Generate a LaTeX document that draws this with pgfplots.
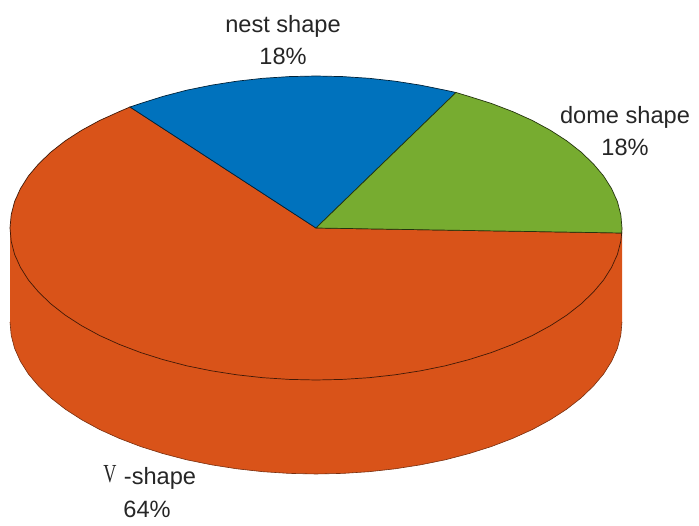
\documentclass[border=0pt]{standalone}
\usepackage{graphicx}
\usepackage{pgfplots}
\pgfplotsset{compat=1.18}
\usepackage{fontspec}
\setmainfont{Liberation Sans}
\newfontfamily\vfont{Liberation Serif}
\definecolor{mo}{HTML}{D95319}
\definecolor{mb}{HTML}{0072BD}
\definecolor{mg}{HTML}{77AC30}
\definecolor{txt}{HTML}{262626}
\tikzset{lbl/.style={text=txt, font=\fontsize{23.6}{27}\selectfont, inner sep=0pt, anchor=center}}
\begin{document}
\begin{tikzpicture}
\begin{axis}[
  scale only axis, width=699pt, height=526pt,
  xmin=0, xmax=699, ymin=0, ymax=526, y dir=reverse,
  axis lines=none, clip=false,
]
\path (axis cs:0,0) rectangle (axis cs:699,526);
% side wall
\addplot[fill=mo, draw=none] coordinates {
(622,228)(622,322)(620.8,335.3)(617.4,348.4)(611.6,361.3)(603.6,374)(593.3,386.2)(581,398)(566.7,409.2)(550.4,419.7)(532.4,429.5)(512.7,438.4)(491.5,446.5)(469,453.6)(445.3,459.8)(420.7,464.8)(395.2,468.8)(369.1,471.7)(342.7,473.4)(316,474)(289.3,473.4)(262.9,471.7)(236.8,468.8)(211.3,464.8)(186.7,459.8)(163,453.6)(140.5,446.5)(119.3,438.4)(99.6,429.5)(81.6,419.7)(65.3,409.2)(51,398)(38.7,386.2)(28.4,374)(20.4,361.3)(14.6,348.4)(11.2,335.3)(10,322)(10,228)
};
% bottom edge
\addplot[draw=black!45!mo, line width=0.6pt] coordinates {
(622,322)(620.8,335.3)(617.4,348.4)(611.6,361.3)(603.6,374)(593.3,386.2)(581,398)(566.7,409.2)(550.4,419.7)(532.4,429.5)(512.7,438.4)(491.5,446.5)(469,453.6)(445.3,459.8)(420.7,464.8)(395.2,468.8)(369.1,471.7)(342.7,473.4)(316,474)(289.3,473.4)(262.9,471.7)(236.8,468.8)(211.3,464.8)(186.7,459.8)(163,453.6)(140.5,446.5)(119.3,438.4)(99.6,429.5)(81.6,419.7)(65.3,409.2)(51,398)(38.7,386.2)(28.4,374)(20.4,361.3)(14.6,348.4)(11.2,335.3)(10,322)
};
% top: V-shape
\addplot[fill=mo, draw=black!70!mo, line width=0.7pt] coordinates {
(316,228)(621.7,233)(620.8,241.3)(617.4,254.4)(611.6,267.3)(603.6,280)(593.3,292.2)(581,304)(566.7,315.2)(550.4,325.7)(532.4,335.5)(512.7,344.4)(491.5,352.5)(469,359.6)(445.3,365.8)(420.7,370.8)(395.2,374.8)(369.1,377.7)(342.7,379.4)(316,380)(289.3,379.4)(262.9,377.7)(236.8,374.8)(211.3,370.8)(186.7,365.8)(163,359.6)(140.5,352.5)(119.3,344.4)(99.6,335.5)(81.6,325.7)(65.3,315.2)(51,304)(38.7,292.2)(28.4,280)(20.4,267.3)(14.6,254.4)(11.2,241.3)(10,228)(11.2,214.7)(14.6,201.6)(20.4,188.7)(28.4,176)(38.7,163.8)(51,152)(65.3,140.8)(81.6,130.3)(99.6,120.5)(119.3,111.6)(130,107)(316,228)
};
% top: nest shape
\addplot[fill=mb, draw=black!70!mb, line width=0.7pt] coordinates {
(316,228)(130,107)(140.5,103.5)(163,96.4)(186.7,90.2)(211.3,85.2)(236.8,81.2)(262.9,78.3)(289.3,76.6)(316,76)(342.7,76.6)(369.1,78.3)(395.2,81.2)(420.7,85.2)(445.3,90.2)(456,92.5)(316,228)
};
% top: dome shape
\addplot[fill=mg, draw=black!70!mg, line width=0.7pt] coordinates {
(316,228)(456,92.5)(469,96.4)(491.5,103.5)(512.7,111.6)(532.4,120.5)(550.4,130.3)(566.7,140.8)(581,152)(593.3,163.8)(603.6,176)(611.6,188.7)(617.4,201.6)(620.8,214.7)(622,228)(621.7,233)(316,228)
};
\node[lbl] at (axis cs:283,26) {nest shape};
\node[lbl] at (axis cs:283,56.5) {18\%};
\node[lbl] at (axis cs:625,117.5) {dome shape};
\node[lbl] at (axis cs:625,147.5) {18\%};
\node[lbl] at (axis cs:110,474.5) {\vfont\fontsize{26}{30}\selectfont\scalebox{0.7}[1]{V}};
\node[lbl] at (axis cs:160,478) {-shape};
\node[lbl] at (axis cs:147,509) {64\%};
\end{axis}
\end{tikzpicture}
\end{document}
